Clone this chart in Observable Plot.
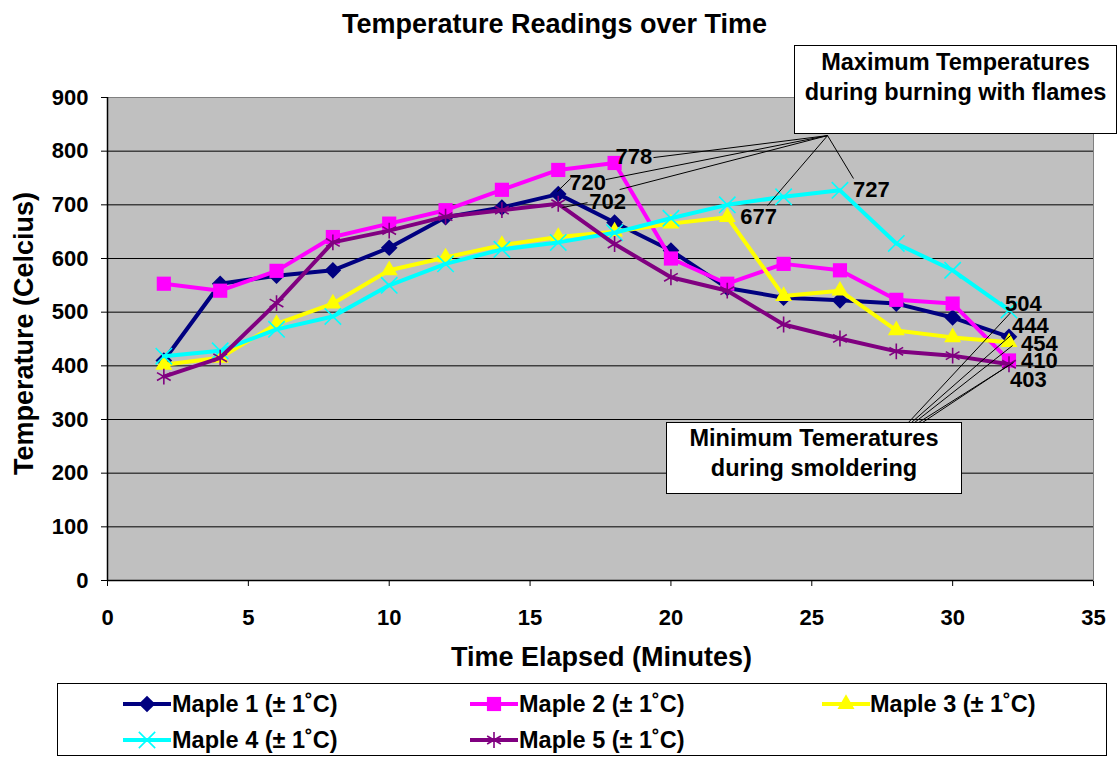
<!DOCTYPE html>
<html><head><meta charset="utf-8">
<script src="https://cdn.jsdelivr.net/npm/d3@7"></script>
<script src="https://cdn.jsdelivr.net/npm/@observablehq/plot@0.6"></script>
<style>
body{margin:0;background:#fff;}
#wrap{position:relative;width:1119px;height:761px;overflow:hidden;font-family:'Liberation Sans',Arial,sans-serif;font-weight:bold;color:#000;}
.abs{position:absolute;white-space:nowrap;}
#title{left:0;top:11px;width:1109px;text-align:center;font-size:27px;line-height:27px;}
#chart{left:0;top:50px;}
#xtitle{left:0;top:644px;width:1203px;text-align:center;font-size:27px;line-height:27px;}
#ytitle{left:-176px;top:320px;width:400px;height:27px;text-align:center;font-size:27px;line-height:27px;transform:rotate(-90deg);}
.callout{background:#fff;border:1.5px solid #000;box-sizing:border-box;text-align:center;font-size:23.5px;line-height:30px;}
#legendbox{left:57px;top:683px;width:1050px;height:73px;border:1px solid #000;box-sizing:border-box;background:#fff;}
.legtext{font-size:23.5px;line-height:23px;}
</style>
</head><body>
<div id="wrap">
  <div id="title" class="abs">Temperature Readings over Time</div>
  <div id="chart" class="abs"></div>
  <div id="xtitle" class="abs">Time Elapsed (Minutes)</div>
  <div id="ytitle" class="abs">Temperature (Celcius)</div>
  <div id="legendbox" class="abs"></div>
</div>
<script>
// ---- data ----
const times = [2,4,6,8,10,12,14,16,18,20,22,24,26,28,30,32];
const maple1 = [410,553,568,578,620,677,695,720,667,615,545,527,522,516,490,454];
const maple2 = [553,540,577,640,665,690,728,765,778,600,553,590,578,523,516,410];
const maple3 = [402,415,478,516,578,602,625,640,650,665,677,530,540,466,453,444];
const maple4 = [418,428,468,492,550,590,617,630,648,675,700,715,727,628,578,504];
const maple5 = [380,415,517,630,652,678,690,702,627,565,540,477,451,427,419,403];
const seriesNames = ["Maple 1 (± 1˚C)","Maple 2 (± 1˚C)","Maple 3 (± 1˚C)","Maple 4 (± 1˚C)","Maple 5 (± 1˚C)"];
const xTicks = [0,5,10,15,20,25,30,35];
const yTicks = [0,100,200,300,400,500,600,700,800,900];

// labelled points: [series index, time]
const maxLabels = [[1,18],[0,16],[4,16],[2,22],[3,26]];
const minLabels = [[3,32],[0,32],[2,32],[1,32],[4,32]];
const calloutMax = ["Maximum Temperatures","during burning with flames"];
const calloutMin = ["Minimum Temeratures","during smoldering"];

// ---- styles / layout ----
const colors = ["#000080","#FF00FF","#FFFF00","#00FFFF","#800080"];
const symbols = ["diamond2","square","triangle","times","asterisk"];
const radii = [7.5,8,6.3,7.5,7.5];
const filled = [true,true,true,false,false];
const d3sym = {diamond2:d3.symbolDiamond2,square:d3.symbolSquare,triangle:d3.symbolTriangle,times:d3.symbolTimes,asterisk:d3.symbolAsterisk};
// label offsets (px) keyed "series-time"
const labelOffsets = {"1-18":[1,-6],"0-16":[11,-11],"4-16":[31,-2],"2-22":[13,0],"3-26":[13,0],
  "3-32":[-4,-6],"0-32":[12,7],"2-32":[3,-16],"1-32":[12,0],"4-32":[1,16]};
// leader lines in data units [x1,y1,x2,y2]
const leaders = [
  [25.56,829,19.38,788],[25.56,829,17.68,747],[25.56,829,18.18,728.5],
  [25.56,829,23.43,698.7],[25.56,829,26.48,749],
  [16.44,749,15.97,725],[17.04,704,16.15,695],
  [28.43,294.4,32.06,499],[28.54,294.4,32.06,456.5],[28.65,294.4,32.13,437.9],
  [28.79,294.4,32.16,406],[28.93,294.4,31.98,400.6]
];

const all = [maple1,maple2,maple3,maple4,maple5];
const rows = all.flatMap((arr,i)=>arr.map((v,j)=>({t:times[j],v,s:i})));
const labelRows = [...maxLabels,...minLabels].map(([s,t])=>{
  const v = all[s][times.indexOf(t)];
  return {t,v,s,txt:String(v),off:labelOffsets[s+"-"+t]};
});

const seriesMarks = all.flatMap((arr,i)=>{
  const d = rows.filter(r=>r.s===i);
  return [
    Plot.line(d,{x:"t",y:"v",stroke:colors[i],strokeWidth:4,strokeLinejoin:"round"}),
    Plot.dot(d,{x:"t",y:"v",symbol:symbols[i],r:radii[i],
      fill:filled[i]?colors[i]:"none",stroke:filled[i]?"none":colors[i],strokeWidth:filled[i]?0:1.6})
  ];
});

const labelMarks = labelRows.map(r=>Plot.text([r],{x:"t",y:"v",text:"txt",textAnchor:"start",
  dx:r.off[0],dy:r.off[1],fill:"black",fontSize:22,fontWeight:"bold"}));

const chart = Plot.plot({
  width:1119,height:630,
  marginTop:47,marginBottom:100,marginLeft:107,marginRight:26,
  style:{fontFamily:"'Liberation Sans', Arial, sans-serif",fontSize:"22px",fontWeight:"bold",color:"black",background:"transparent",overflow:"visible"},
  x:{domain:[0,35],ticks:xTicks,tickSize:6,tickPadding:23,label:null},
  y:{domain:[0,900],ticks:yTicks,tickSize:6,tickPadding:13,label:null},
  marks:[
    Plot.frame({fill:"#C0C0C0",stroke:"#808080"}),
    Plot.ruleY(yTicks.filter(v=>v>0&&v<900),{stroke:"#000",strokeWidth:1}),
    Plot.ruleY([0],{stroke:"#000",strokeWidth:1.5}),
    Plot.ruleX([0],{stroke:"#000",strokeWidth:1.5}),
    ...seriesMarks,
    Plot.link(leaders,{x1:d=>d[0],y1:d=>d[1],x2:d=>d[2],y2:d=>d[3],stroke:"#000",strokeWidth:1}),
    ...labelMarks
  ]
});
document.getElementById("chart").appendChild(chart);

// callout boxes
const wrap = document.getElementById("wrap");
function callout(lines,left,top,w,h,pad){
  const el=document.createElement("div");
  el.className="abs callout";
  Object.assign(el.style,{left:left+"px",top:top+"px",width:w+"px",height:h+"px",paddingTop:pad+"px"});
  el.innerHTML=lines.join("<br>");
  wrap.appendChild(el);
}
callout(calloutMax,794,45,323,89,1);
callout(calloutMin,666,422,296,72,0);

// legend
const colLine=[123,470,822], colText=[172,519,870], rowY=[704,740];
seriesNames.forEach((name,i)=>{
  const c=i%3, r=Math.floor(i/3);
  const svg=d3.create("svg").attr("width",48).attr("height",24)
    .style("position","absolute").style("left",colLine[c]+"px").style("top",(rowY[r]-12)+"px");
  svg.append("line").attr("x1",0).attr("x2",48).attr("y1",12).attr("y2",12).attr("stroke",colors[i]).attr("stroke-width",4);
  svg.append("path").attr("transform","translate(24,12)")
    .attr("d",d3.symbol(d3sym[symbols[i]],Math.PI*radii[i]*radii[i])())
    .attr("fill",filled[i]?colors[i]:"none").attr("stroke",filled[i]?"none":colors[i]).attr("stroke-width",1.6);
  wrap.appendChild(svg.node());
  const t=document.createElement("div");
  t.className="abs legtext";
  t.style.left=colText[c]+"px"; t.style.top=(rowY[r]-11.2)+"px";
  t.textContent=name;
  wrap.appendChild(t);
});
</script>
</body></html>
